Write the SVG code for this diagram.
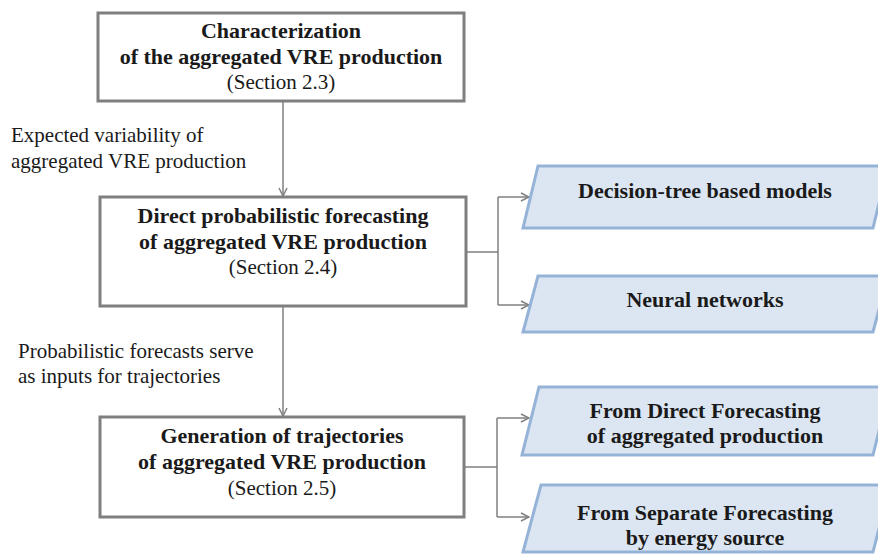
<svg xmlns="http://www.w3.org/2000/svg" width="878" height="554" viewBox="0 0 878 554" font-family="'Liberation Serif', 'Times New Roman', serif" font-size="21">
<style>
.box{fill:#ffffff;stroke:#7f7f7f;stroke-width:3}
.para{fill:#dce6f2;stroke:#95b3d7;stroke-width:3;stroke-linejoin:miter}
.conn{fill:none;stroke:#808080;stroke-width:1.5}
.t{fill:#1a1a1a;font-size:21px}
.b{font-weight:bold;text-anchor:middle;fill:#1a1a1a;font-size:22px}
.r{text-anchor:middle;fill:#1a1a1a;font-size:21px}
</style>
<defs>
<marker id="arr" viewBox="0 0 10 10" refX="9" refY="5" markerWidth="10" markerHeight="10" markerUnits="userSpaceOnUse" orient="auto">
<path d="M1,1 L9,5 L1,9" fill="none" stroke="#808080" stroke-width="1.5"/>
</marker>
</defs>
<g id="connectors">
<path class="conn" d="M283,102 L283,196" marker-end="url(#arr)"/>
<path class="conn" d="M283,307 L283,416" marker-end="url(#arr)"/>
<path class="conn" d="M467,252 L498,252 M498,197 L498,305"/>
<path class="conn" d="M498,197 L529,197" marker-end="url(#arr)"/>
<path class="conn" d="M498,305 L529,305" marker-end="url(#arr)"/>
<path class="conn" d="M465,467 L497,467 M497,418 L497,517"/>
<path class="conn" d="M497,418 L529,418" marker-end="url(#arr)"/>
<path class="conn" d="M497,517 L529,517" marker-end="url(#arr)"/>
</g>
<g id="label1">
<text class="t" x="11" y="142">Expected variability of</text>
<text class="t" x="11" y="168">aggregated VRE production</text>
</g>
<g id="label2">
<text class="t" x="18" y="358">Probabilistic forecasts serve</text>
<text class="t" x="18" y="383">as inputs for trajectories</text>
</g>
<g id="characterization">
<rect class="box" x="98" y="13" width="366" height="88"/>
<text class="b" x="281" y="38">Characterization</text>
<text class="b" x="281" y="64">of the aggregated VRE production</text>
<text class="r" x="281" y="89">(Section 2.3)</text>
</g>
<g id="direct">
<rect class="box" x="100" y="197" width="366" height="109"/>
<text class="b" x="283" y="223">Direct probabilistic forecasting</text>
<text class="b" x="283" y="249">of aggregated VRE production</text>
<text class="r" x="283" y="274">(Section 2.4)</text>
</g>
<g id="generation">
<rect class="box" x="100" y="417" width="364" height="100"/>
<text class="b" x="282" y="443">Generation of trajectories</text>
<text class="b" x="282" y="469">of aggregated VRE production</text>
<text class="r" x="282" y="495">(Section 2.5)</text>
</g>
<g id="decision-tree">
<polygon class="para" points="538,166 888,166 873,228 523,228"/>
<text class="b" x="705" y="198">Decision-tree based models</text>
</g>
<g id="neural">
<polygon class="para" points="538,276 888,276 873,332 523,332"/>
<text class="b" x="705" y="307">Neural networks</text>
</g>
<g id="from-direct">
<polygon class="para" points="539,387 890,387 873,455 522,455"/>
<text class="b" x="705" y="418">From Direct Forecasting</text>
<text class="b" x="705" y="443">of aggregated production</text>
</g>
<g id="from-separate">
<polygon class="para" points="541,485 890,485 873,552 523,552"/>
<text class="b" x="705" y="520">From Separate Forecasting</text>
<text class="b" x="705" y="545">by energy source</text>
</g>
</svg>
